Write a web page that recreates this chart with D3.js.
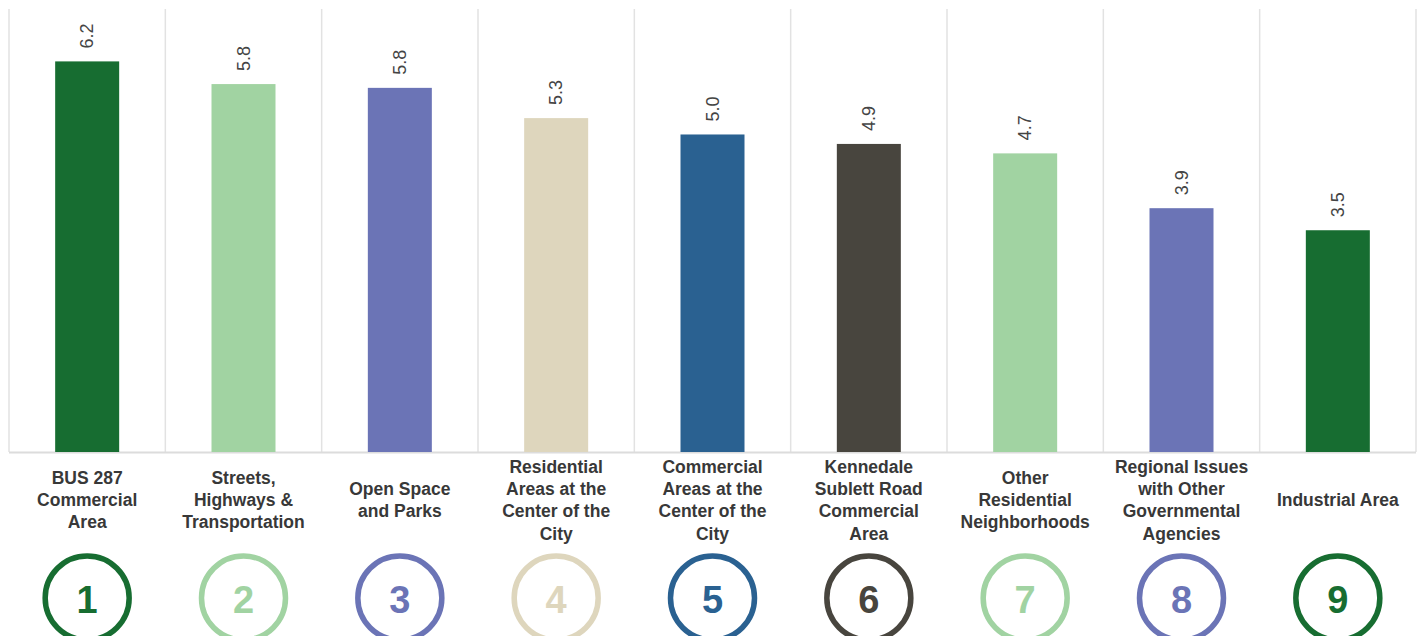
<!DOCTYPE html>
<html>
<head>
<meta charset="utf-8">
<script src="https://cdn.jsdelivr.net/npm/d3@7"></script>
<style>
  html, body { margin: 0; padding: 0; background: #fff; }
  svg { display: block; font-family: "Liberation Sans", Arial, sans-serif; }
</style>
</head>
<body>
<svg id="chart" width="1423" height="636"></svg>
<script>
// Priority areas, in ranked order
const categories = [
  "BUS 287 Commercial Area",
  "Streets, Highways & Transportation",
  "Open Space and Parks",
  "Residential Areas at the Center of the City",
  "Commercial Areas at the Center of the City",
  "Kennedale Sublett Road Commercial Area",
  "Other Residential Neighborhoods",
  "Regional Issues with Other Governmental Agencies",
  "Industrial Area"
];
// Wrapped label lines for each category
const labelLines = [
  ["BUS 287", "Commercial", "Area"],
  ["Streets,", "Highways &", "Transportation"],
  ["Open Space", "and Parks"],
  ["Residential", "Areas at the", "Center of the", "City"],
  ["Commercial", "Areas at the", "Center of the", "City"],
  ["Kennedale", "Sublett Road", "Commercial", "Area"],
  ["Other", "Residential", "Neighborhoods"],
  ["Regional Issues", "with Other", "Governmental", "Agencies"],
  ["Industrial Area"]
];
// Average score per area
const scores = [6.2, 5.84, 5.78, 5.3, 5.04, 4.89, 4.74, 3.87, 3.52];
const ranks = ["1", "2", "3", "4", "5", "6", "7", "8", "9"];
const colors = ["#176d31", "#a1d3a2", "#6b74b6", "#ded6bd", "#2a6191",
                "#48453e", "#a1d3a2", "#6b74b6", "#176d31"];
const yMax = 7;

const svg = d3.select("#chart");
const plotLeft = 9, plotRight = 1416, plotTop = 9, baseline = 452;

const x = d3.scaleBand()
  .domain(categories)
  .range([plotLeft, plotRight])
  .paddingInner(0)
  .paddingOuter(0);

const y = d3.scaleLinear()
  .domain([0, yMax])
  .range([baseline, baseline - 63 * yMax]);

const barW = 64;
const cx = c => x(c) + x.bandwidth() / 2;

// vertical separators between categories
const edges = categories.map(c => x(c)).concat([plotRight]);
svg.append("g").selectAll("line")
  .data(edges)
  .join("line")
  .attr("x1", d => d).attr("x2", d => d)
  .attr("y1", plotTop).attr("y2", baseline)
  .attr("stroke", "#e2e2e2")
  .attr("stroke-width", 1.5);

// baseline
svg.append("line")
  .attr("x1", plotLeft).attr("x2", plotRight)
  .attr("y1", baseline + 0.5).attr("y2", baseline + 0.5)
  .attr("stroke", "#dcdcdc")
  .attr("stroke-width", 2);

// bars
svg.append("g").selectAll("rect")
  .data(categories)
  .join("rect")
  .attr("x", c => cx(c) - barW / 2)
  .attr("width", barW)
  .attr("y", (c, i) => y(scores[i]))
  .attr("height", (c, i) => baseline - y(scores[i]))
  .attr("fill", (c, i) => colors[i]);

// value labels, rotated
svg.append("g").selectAll("text")
  .data(categories)
  .join("text")
  .attr("transform", (c, i) => `translate(${cx(c) + 6},${y(scores[i]) - 13}) rotate(-90)`)
  .attr("text-anchor", "start")
  .attr("font-size", 18)
  .attr("fill", "#444")
  .text((c, i) => scores[i].toFixed(1));

// category labels, centred vertically around one line
const lineH = 22.3, labelMid = 500;
const catG = svg.append("g").selectAll("text")
  .data(categories)
  .join("text")
  .attr("text-anchor", "middle")
  .attr("font-size", 17.5)
  .attr("font-weight", "bold")
  .attr("fill", "#383838");
catG.each(function (c, i) {
  const lines = labelLines[i];
  const start = labelMid - (lines.length - 1) * lineH / 2;
  d3.select(this).selectAll("tspan")
    .data(lines)
    .join("tspan")
    .attr("x", cx(c))
    .attr("y", (d, j) => start + j * lineH)
    .attr("dy", "0.35em")
    .text(d => d);
});

// rank badges
const badgeY = 598, badgeR = 42;
const badges = svg.append("g").selectAll("g")
  .data(categories)
  .join("g")
  .attr("transform", c => `translate(${cx(c)},${badgeY})`);
badges.append("circle")
  .attr("r", badgeR)
  .attr("fill", "#fff")
  .attr("stroke", (c, i) => colors[i])
  .attr("stroke-width", 5.5);
badges.append("text")
  .attr("text-anchor", "middle")
  .attr("dy", "0.36em")
  .attr("y", 1)
  .attr("font-size", 38)
  .attr("font-weight", "bold")
  .attr("fill", (c, i) => colors[i])
  .text((c, i) => ranks[i]);
</script>
</body>
</html>
